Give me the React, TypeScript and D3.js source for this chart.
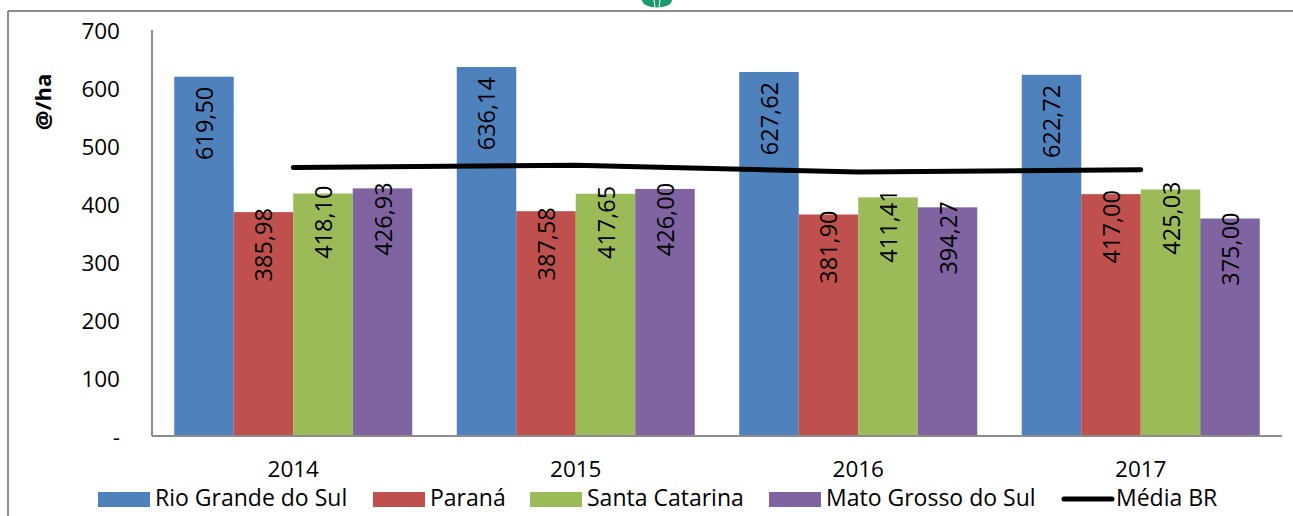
import React from "react";
import * as d3 from "d3";

const years = ["2014", "2015", "2016", "2017"];
const seriesNames = ["Rio Grande do Sul", "Paraná", "Santa Catarina", "Mato Grosso do Sul"];
const rioGrandeDoSul = [619.5, 636.14, 627.62, 622.72];
const parana = [385.98, 387.58, 381.9, 417.0];
const santaCatarina = [418.1, 417.65, 411.41, 425.03];
const matoGrossoDoSul = [426.93, 426.0, 394.27, 375.0];
const mediaBR = [463, 467, 455, 459];
const yTicks = [0, 100, 200, 300, 400, 500, 600, 700];
const lineName = "Média BR";

const colors = ["#4F81BD", "#C0504D", "#9BBB59", "#8064A2"];
const labelOffsets = [10, -4, -8, -6];
const legendX = [98, 373, 530, 769];
const FONT = "'Open Sans', sans-serif";

const fmt = (v: number) => v.toFixed(2).replace(".", ",");

export default function App() {
  const W = 1293, H = 516;
  const left = 152, right = 1282, top = 30, bottom = 436;
  const series = [rioGrandeDoSul, parana, santaCatarina, matoGrossoDoSul];
  const p = 0.1575;
  const x = d3.scaleBand<string>().domain(years).range([left, right]).paddingInner(p).paddingOuter(p / 2);
  const xi = d3.scaleBand<number>().domain(d3.range(series.length)).range([0, x.bandwidth()]);
  const y = d3.scaleLinear().domain([0, 700]).range([bottom, top]);
  const line = d3.line<number>()
    .x((_, i) => (x(years[i]) as number) + x.bandwidth() / 2)
    .y((d) => y(d));

  return (
    <svg width={W} height={H} style={{ position: "absolute", left: 0, top: 0, fontFamily: FONT }}>
      <rect x={0} y={0} width={W} height={H} fill="#fff" />
      {/* logo fragment */}
      <path d="M642,0 A15,7.5 0 0 0 672,0 Z" fill="#1a9a6a" />
      <line x1={654} y1={0} x2={655} y2={7} stroke="#fff" strokeWidth={1} />
      <line x1={660} y1={0} x2={659} y2={7} stroke="#fff" strokeWidth={1} />
      {/* outer frame */}
      <line x1={8} y1={11} x2={W} y2={11} stroke="#8c8c8c" strokeWidth={2} />
      <line x1={8} y1={11} x2={8} y2={H} stroke="#8c8c8c" strokeWidth={2} />

      {/* bars */}
      {series.map((vals, si) =>
        vals.map((v, i) => {
          const bx = (x(years[i]) as number) + (xi(si) as number);
          return (
            <rect key={`b${si}-${i}`} x={bx} y={y(v)} width={xi.bandwidth()} height={y(0) - y(v)} fill={colors[si]} />
          );
        })
      )}

      {/* axes */}
      <line x1={left} y1={top} x2={left} y2={bottom} stroke="#8c8c8c" strokeWidth={2} />
      <line x1={left} y1={bottom} x2={right} y2={bottom} stroke="#8c8c8c" strokeWidth={2} />

      {yTicks.map((t) => (
        <text key={t} x={120} y={y(t)} textAnchor="end" dominantBaseline="central" fontSize={22.5} fill="#000">
          {t === 0 ? "-" : t}
        </text>
      ))}
      <text transform={`translate(51,${102}) rotate(-90)`} textAnchor="middle" fontSize={22} fontWeight="bold" fill="#000">
        @/ha
      </text>

      {years.map((yr) => (
        <text key={yr} x={(x(yr) as number) + x.bandwidth() / 2} y={477} textAnchor="middle" fontSize={22.5} fill="#000">
          {yr}
        </text>
      ))}

      {/* line */}
      <path d={line(mediaBR) || ""} fill="none" stroke="#000" strokeWidth={5} strokeLinecap="round" strokeLinejoin="round" />

      {/* bar labels */}
      {series.map((vals, si) =>
        vals.map((v, i) => {
          const cx = (x(years[i]) as number) + (xi(si) as number) + xi.bandwidth() / 2;
          const ty = y(v) + labelOffsets[si];
          return (
            <text key={`l${si}-${i}`} transform={`translate(${cx},${ty}) rotate(-90)`} textAnchor="end" dominantBaseline="central" fontSize={23.5} fill="#000">
              {fmt(v)}
            </text>
          );
        })
      )}

      {/* legend */}
      {seriesNames.map((n, si) => (
        <g key={n}>
          <rect x={legendX[si]} y={492} width={52} height={15} fill={colors[si]} />
          <text x={legendX[si] + 57} y={506} fontSize={23} fill="#000">{n}</text>
        </g>
      ))}
      <line x1={1064} y1={499} x2={1112} y2={499} stroke="#000" strokeWidth={5} strokeLinecap="round" />
      <text x={1116} y={506} fontSize={23} fill="#000">{lineName}</text>
    </svg>
  );
}
